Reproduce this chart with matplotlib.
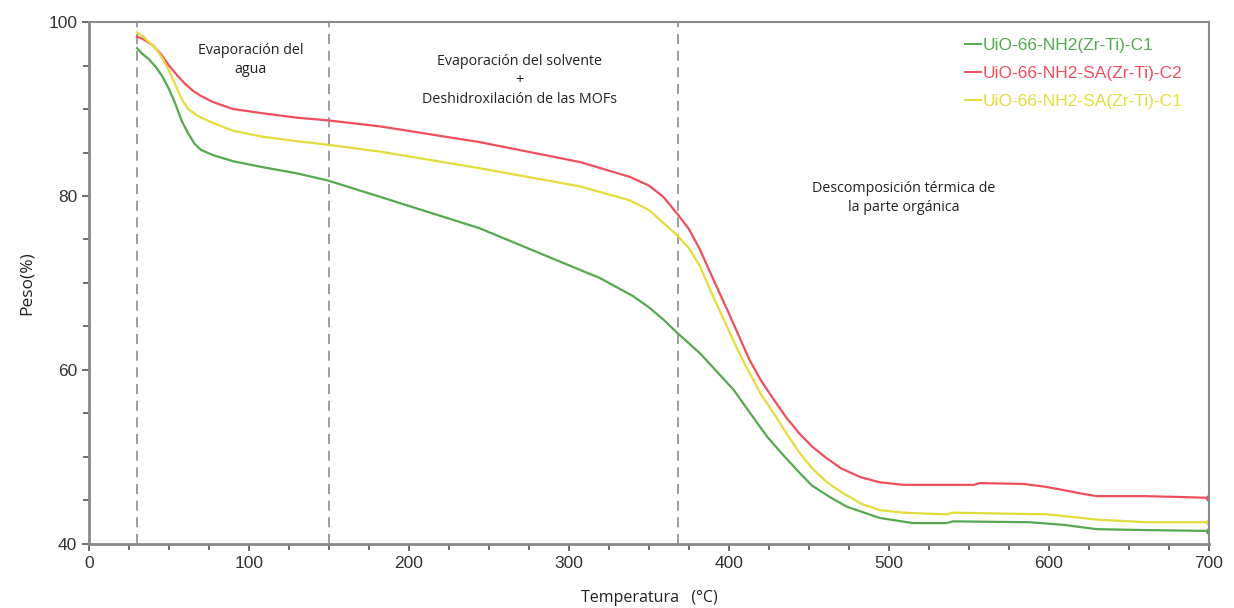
import matplotlib
matplotlib.use("Agg")
import matplotlib.pyplot as plt

# TGA curves, temperature (°C) vs residual weight (%)
temp_c1 = [30, 33, 37, 42, 46, 50, 54, 58, 62, 66, 70, 77.5, 90, 109, 130, 149, 182, 244,
           307, 319, 332, 340, 350, 359, 367.5, 382, 403, 413, 424, 434, 444, 452, 463,
           473.5, 494, 515, 536, 540, 588, 609, 630, 660, 700]
peso_c1 = [97.0, 96.4, 95.8, 94.8, 93.7, 92.3, 90.6, 88.6, 87.2, 86.0, 85.3, 84.7, 84.0,
           83.3, 82.6, 81.8, 79.9, 76.3, 71.5, 70.6, 69.3, 68.5, 67.2, 65.8, 64.3, 61.9,
           57.7, 55.1, 52.3, 50.2, 48.2, 46.7, 45.4, 44.3, 43.0, 42.4, 42.4, 42.6, 42.5,
           42.2, 41.7, 41.6, 41.5]

temp_sa_c2 = [30, 33, 36, 40, 45, 50, 55, 60, 65, 70, 77.5, 90, 109, 130, 149, 182, 244,
              307, 338, 350, 359, 367.5, 375, 382, 390, 399, 406, 413, 420, 428, 436, 444,
              452, 460, 470, 482, 494, 509, 530, 553, 557, 584, 597, 609, 620, 630, 660,
              682, 700]
peso_sa_c2 = [98.3, 98.1, 97.8, 97.3, 96.3, 95.0, 93.9, 92.9, 92.1, 91.5, 90.8, 90.0, 89.5,
              89.0, 88.7, 88.0, 86.2, 83.9, 82.2, 81.2, 79.9, 78.0, 76.2, 73.8, 70.5, 66.9,
              64.0, 61.1, 58.8, 56.6, 54.5, 52.7, 51.2, 50.0, 48.7, 47.7, 47.1, 46.8, 46.8,
              46.8, 47.0, 46.9, 46.6, 46.2, 45.8, 45.5, 45.5, 45.4, 45.3]

temp_sa_c1 = [30, 34, 38, 42, 46, 50, 54, 58, 62, 68, 77.5, 90, 109, 130, 149, 182, 244,
              307, 338, 350, 359, 367.5, 375, 382, 390, 399, 406, 413, 420, 428, 436, 444,
              452, 460, 465, 473.5, 483, 494, 509, 536, 540, 599, 615, 630, 661, 700]
peso_sa_c1 = [98.8, 98.3, 97.6, 96.9, 95.8, 94.4, 92.8, 91.1, 90.0, 89.2, 88.4, 87.5, 86.8,
              86.3, 85.9, 85.1, 83.2, 81.1, 79.5, 78.4, 76.9, 75.5, 74.0, 71.9, 68.5, 64.9,
              62.1, 59.6, 57.2, 55.0, 52.7, 50.5, 48.7, 47.3, 46.6, 45.6, 44.6, 43.9, 43.6,
              43.4, 43.6, 43.4, 43.1, 42.8, 42.5, 42.5]

series = [
    ("UiO-66-NH2(Zr-Ti)-C1", temp_c1, peso_c1, "#55a84f"),
    ("UiO-66-NH2-SA(Zr-Ti)-C2", temp_sa_c2, peso_sa_c2, "#ef4f5c"),
    ("UiO-66-NH2-SA(Zr-Ti)-C1", temp_sa_c1, peso_sa_c1, "#e3dc3c"),
]

# stage boundaries (°C)
etapas = [30, 150, 368]

etiquetas = [
    (101, 95.6, "Evaporación del\nagua"),
    (269, 93.3, "Evaporación del solvente\n+\nDeshidroxilación de las MOFs"),
    (509, 79.8, "Descomposición térmica de\nla parte orgánica"),
]

TEXT_FONT = ["Open Sans", "DejaVu Sans"]
TICK_FONT = ["Liberation Sans", "DejaVu Sans"]
SPINE = "#8a8a8a"

fig = plt.figure(figsize=(12.34, 6.08), dpi=100)
ax = fig.add_axes([0.0721, 0.1053, 0.9076, 0.8585])

for name, t, p, color in series:
    ax.plot(t, p, color=color, linewidth=1.6, label=name)
    ax.plot(t[-1], p[-1], "o", color=color, markersize=4)

for x in etapas:
    ax.axvline(x, color="#8c8c8c", linewidth=1.2, linestyle=(0, (6, 4)), zorder=0)

for x, y, txt in etiquetas:
    ax.text(x, y, txt, ha="center", va="center", fontsize=10.3, color="#222222",
            family=TEXT_FONT, linespacing=1.35)

ax.set_xlim(0, 700)
ax.set_ylim(40, 100)
ax.set_xticks(range(0, 701, 100))
ax.set_xticks(range(0, 701, 25), minor=True)
ax.set_yticks(range(40, 101, 20))
ax.set_yticks(range(40, 101, 5), minor=True)
for lab in ax.get_xticklabels() + ax.get_yticklabels():
    lab.set_family(TICK_FONT)
ax.tick_params(axis="both", which="both", direction="out", color="#555555",
               labelsize=12.5, labelcolor="#333333")
ax.tick_params(which="major", length=5, width=1.2)
ax.tick_params(which="minor", length=4, width=1.2)

for side, spine in ax.spines.items():
    spine.set_color(SPINE)
    spine.set_linewidth(2.0 if side in ("left", "bottom") else 1.5)

ax.set_ylabel("Peso(%)", fontsize=12.5, family=TEXT_FONT, color="#222222", labelpad=10)
ax.set_xlabel("Temperatura   (°C)", fontsize=11.5, family=TEXT_FONT, color="#222222",
              labelpad=14)

leg = ax.legend(loc="upper right", bbox_to_anchor=(0.99, 1.0), frameon=False,
                handlelength=0.9, handletextpad=0.1, labelspacing=0.75,
                labelcolor="linecolor",
                prop={"family": ["Liberation Sans Narrow", "Liberation Sans"], "size": 12.5})
for line in leg.get_lines():
    line.set_linewidth(1.4)

fig.savefig("out.png", dpi=100, facecolor="white")
